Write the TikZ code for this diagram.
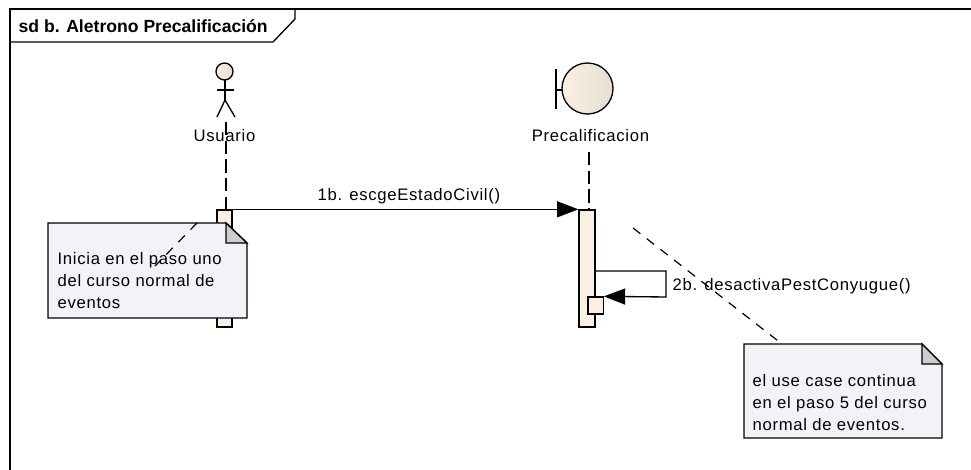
\documentclass[tikz,border=0pt]{standalone}
\usepackage{fontspec}
\setmainfont{Liberation Sans}
\newfontfamily\lblfont[LetterSpace=4.2]{Liberation Sans}
\usetikzlibrary{arrows.meta}
\definecolor{notefill}{RGB}{245,242,247}
\definecolor{foldfill}{RGB}{207,204,209}
\definecolor{barfill}{RGB}{250,241,228}
\definecolor{shadefill}{RGB}{230,222,208}
\begin{document}
\begin{tikzpicture}[x=0.75pt,y=-0.75pt,line width=1pt,
        lbl/.style={inner sep=0pt,font=\fontsize{12.5}{16.5}\lblfont},
        notebox/.style={draw,fill=notefill},
        notetext/.style={lbl,align=left,anchor=west},
        bar/.style={draw,fill=barfill,inner sep=0pt},
        life/.style={dash pattern=on 10pt off 4pt,line width=0.9pt},
        link/.style={dash pattern=on 7pt off 6pt,line width=0.9pt},
        msg/.style={-{Triangle[length=16pt,width=12pt]},line width=1pt}]
        \useasboundingbox (0,0) rectangle (971,470);
        % frame
        \draw (10,470) -- (10,9) -- (971,9);
        \draw (10,42) -- (273,42) -- (295,19) -- (295,9);
        \node [anchor=west,inner sep=0pt,font=\fontsize{13.2}{15}\bfseries\selectfont] (title) at (18,26) {sd b. Aletrono Precalificación};
        % usuario
        \coordinate (headtop) at (225,80);
        \coordinate (hip) at (225,100);
        \draw [left color=barfill,right color=shadefill] (224.5,71.5) circle [radius=8.5];
        \draw (headtop) -- (hip);
        \draw (217,90) -- (234,90);
        \draw (217,117) -- (hip) -- (235,117);
        \node [lbl] (usuario) at (224.5,135.5) {Usuario};
        \coordinate (usuariotop) at (226,122);
        \node [bar,minimum width=11.25pt,minimum height=87.75pt] (barone) at (224.5,268.5) {};
        \draw [life] (usuariotop) -- (usuariotop |- barone.north);
        % precalificacion
        \draw [left color=barfill,right color=shadefill] (587.5,88.5) circle [radius=25.5];
        \draw (556,69) -- (556,109);
        \draw (556,90) -- (562,90);
        \node [lbl] (precal) at (590.5,135.5) {Precalificacion};
        \coordinate (precaltop) at (589,152);
        \node [bar,minimum width=12pt,minimum height=87.75pt] (bartwo) at (587,268.5) {};
        \draw [life] (precaltop) -- (precaltop |- bartwo.north);
        % mensajes
        \draw [msg] (barone.north east) -- (bartwo.north west) node [lbl,pos=0.51,above=3.5pt] (msgone) {1b. escgeEstadoCivil()};
        \node [bar,minimum width=11.5pt,minimum height=12.75pt] (barself) at (595.5,305.5) {};
        \coordinate (selfa) at (596,271);
        \coordinate (selfb) at (666,271);
        \coordinate (selfc) at (666,297);
        \draw [msg] (selfa) -- (selfb) -- (selfc) -- (barself.north east);
        \node [lbl,anchor=west] (msgtwo) at (672,286.5) {2b. desactivaPestConyugue()};
        % nota uno
        \draw [notebox] (48,223) -- (226,223) -- (247,243) -- (247,318) -- (48,318) -- cycle;
        \draw [fill=foldfill] (226,223) -- (226,243) -- (247,243) -- cycle;
        \node [notetext] (noteonetext) at (57,280.5) {Inicia en el paso uno\\del curso normal de\\eventos};
        \coordinate (linkonea) at (197,223);
        \coordinate (linkoneb) at (155,266);
        \draw [link] (linkonea) -- (linkoneb);
        % nota dos
        \draw [notebox] (744,344) -- (922,344) -- (942,364) -- (942,438) -- (744,438) -- cycle;
        \draw [fill=foldfill] (922,344) -- (922,364) -- (942,364) -- cycle;
        \node [notetext] (notetwotext) at (752,402.5) {el use case continua\\en el paso 5 del curso\\normal de eventos.};
        \coordinate (linktwoa) at (633,228);
        \coordinate (linktwob) at (782,344);
        \draw [link] (linktwoa) -- (linktwob);
\end{tikzpicture}
\end{document}
